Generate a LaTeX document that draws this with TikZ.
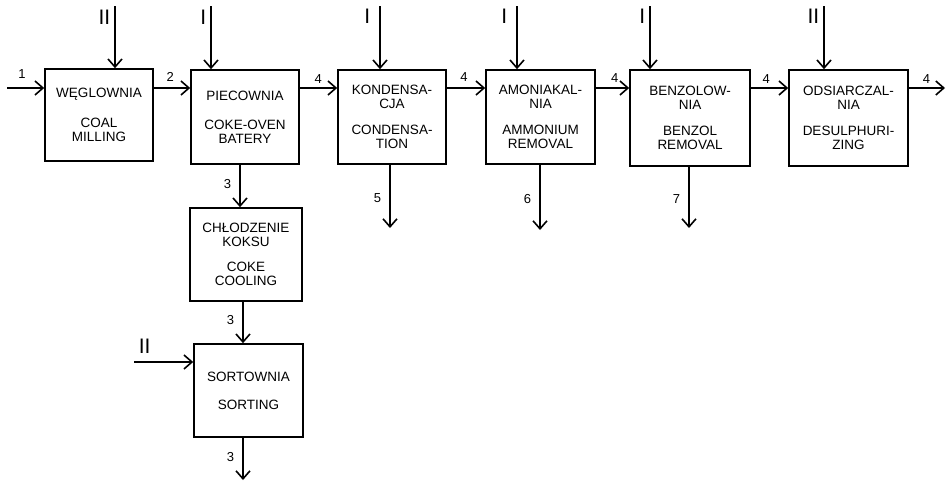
\documentclass[tikz,border=0pt]{standalone}
\usepackage{fontspec}
\setmainfont{Liberation Sans}
\usetikzlibrary{arrows.meta}
\begin{document}
\begin{tikzpicture}[x=1pt,y=-1pt,line width=1.6pt,
  unit/.style={draw,minimum width=108pt,minimum height=94pt,inner sep=0pt,align=center,font=\fontsize{13.5}{14.2}\selectfont},
  flow/.style={-{Straight Barb[length=8pt,width=14pt]}},
  num/.style={inner sep=0pt,font=\fontsize{13}{13}\selectfont},
  grade/.style={inner sep=0pt,font=\fontsize{21}{21}\selectfont}]
\useasboundingbox (0,0) rectangle (948,483);

\node[unit,minimum height=92pt] (coal) at (99,115) {WĘGLOWNIA\\[15pt]COAL\\MILLING};
\node[unit] (oven) at (245,117) {PIECOWNIA\\[15pt]COKE-OVEN\\BATERY};
\node[unit] (cond) at (392,117) {KONDENSA-\\CJA\\[12pt]CONDENSA-\\TION};
\node[unit,minimum width=109pt] (ammon) at (540.5,117) {AMONIAKAL-\\NIA\\[12pt]AMMONIUM\\REMOVAL};
\node[unit,minimum width=120pt,minimum height=96pt] (benzol) at (690,118) {BENZOLOW-\\NIA\\[12pt]BENZOL\\REMOVAL};
\node[unit,minimum width=119pt,minimum height=96pt] (desulph) at (848.5,118) {ODSIARCZAL-\\NIA\\[12pt]DESULPHURI-\\ZING};
\node[unit,minimum width=112pt,minimum height=93pt] (cooling) at (246,254.5) {CHŁODZENIE\\KOKSU\\[11pt]COKE\\COOLING};
\node[unit,minimum width=109pt,minimum height=93pt] (sorting) at (248.5,390.5) {SORTOWNIA\\[14pt]SORTING};

\coordinate (feed) at (7,88);
\coordinate (gas) at (945,88);
\draw[flow] (feed) -- (feed -| coal.west) node[num,pos=0.4,above=9pt] (n1) {1};
\draw[flow] (coal.east |- feed) -- (oven.west |- feed) node[num,pos=0.45,above=6pt] (n2) {2};
\draw[flow] (oven.east |- feed) -- (cond.west |- feed) node[num,pos=0.49,above=4pt] (n4a) {4};
\draw[flow] (cond.east |- feed) -- (ammon.west |- feed) node[num,pos=0.45,above=6pt] (n4b) {4};
\draw[flow] (ammon.east |- feed) -- (benzol.west |- feed) node[num,pos=0.57,above=5pt] (n4c) {4};
\draw[flow] (benzol.east |- feed) -- (desulph.west |- feed) node[num,pos=0.41,above=4pt] (n4d) {4};
\draw[flow] (desulph.east |- gas) -- (gas) node[num,pos=0.49,above=4pt] (n4e) {4};

\coordinate (in1) at (115,6);
\coordinate (in2) at (211,6);
\coordinate (in3) at (380,6);
\coordinate (in4) at (517,6);
\coordinate (in5) at (650,6);
\coordinate (in6) at (824,6);
\draw[flow] (in1) -- (in1 |- coal.north) node[grade,pos=0.18,left=4pt] (g1) {II};
\draw[flow] (in2) -- (in2 |- oven.north) node[grade,pos=0.18,left=4pt] (g2) {I};
\draw[flow] (in3) -- (in3 |- cond.north) node[grade,pos=0.16,left=9pt] (g3) {I};
\draw[flow] (in4) -- (in4 |- ammon.north) node[grade,pos=0.16,left=9pt] (g4) {I};
\draw[flow] (in5) -- (in5 |- benzol.north) node[grade,pos=0.17,left=4pt] (g5) {I};
\draw[flow] (in6) -- (in6 |- desulph.north) node[grade,pos=0.17,left=4pt] (g6) {II};

\coordinate (tar) at (390,228);
\coordinate (ammonia) at (540,230);
\coordinate (benzene) at (689,228);
\coordinate (coke) at (243,480);
\coordinate (screen) at (134,362);
\draw[flow] ([xshift=-5pt]oven.south) -- ([xshift=-6pt]cooling.north) node[num,pos=0.45,left=8pt] (n3a) {3};
\draw[flow] (cooling.south -| coke) -- (sorting.north -| coke) node[num,pos=0.45,left=8pt] (n3b) {3};
\draw[flow] (sorting.south -| coke) -- (coke) node[num,pos=0.45,left=8pt] (n3c) {3};
\draw[flow] (cond.south -| tar) -- (tar) node[num,pos=0.52,left=8pt] (n5) {5};
\draw[flow] (ammon.south -| ammonia) -- (ammonia) node[num,pos=0.52,left=8pt] (n6) {6};
\draw[flow] (benzol.south -| benzene) -- (benzene) node[num,pos=0.52,left=8pt] (n7) {7};
\draw[flow] (screen) -- (screen -| sorting.west) node[grade,pos=0.18,above=8pt] (g7) {II};
\end{tikzpicture}
\end{document}
